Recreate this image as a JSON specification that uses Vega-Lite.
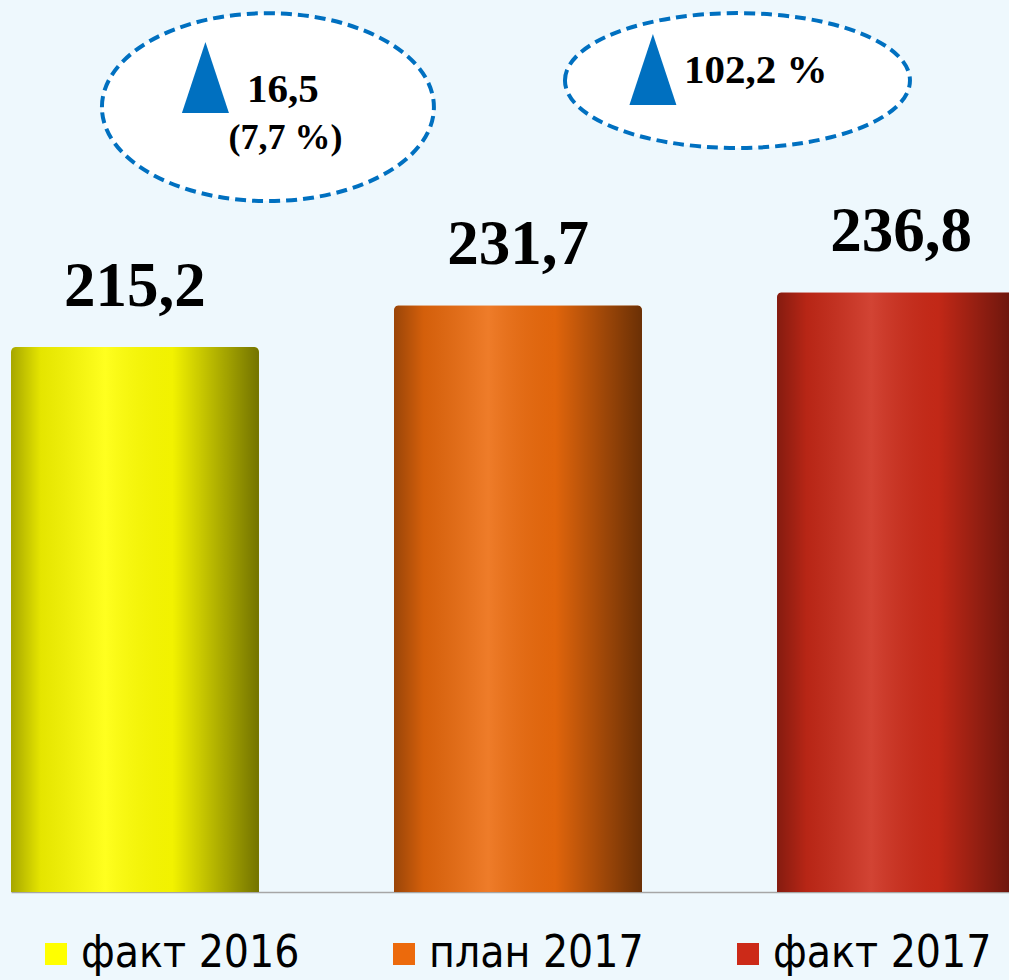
{
  "$schema": "https://vega.github.io/schema/vega-lite/v6.json",
  "width": 1009,
  "height": 892,
  "autosize": {"type": "none"},
  "padding": {"left": 0, "top": 0, "right": 0, "bottom": 88},
  "background": "#EEF8FD",
  "config": {"view": {"stroke": null}},
  "layer": [
    {
      "data": {"name": "bars", "values": [
        {"cat": "факт 2016", "value": 215.2, "label": "215,2"},
        {"cat": "план 2017", "value": 231.7, "label": "231,7"},
        {"cat": "факт 2017", "value": 236.8, "label": "236,8"}
      ]},
      "encoding": {
        "x": {"field": "cat", "type": "nominal", "sort": ["факт 2016", "план 2017", "факт 2017"],
          "scale": {"range": [11, 1025], "paddingInner": 0.3525, "paddingOuter": 0},
          "axis": {"labels": false, "ticks": false, "title": null, "domainColor": "#A6A6A6", "domainWidth": 1.5}},
        "y": {"field": "value", "type": "quantitative", "scale": {"domain": [0, 352.2], "nice": false}, "axis": null}
      },
      "layer": [
        {
          "mark": {"type": "bar", "cornerRadiusTopLeft": 5, "cornerRadiusTopRight": 5},
          "encoding": {
            "color": {"field": "cat", "type": "nominal",
              "scale": {"domain": ["факт 2016", "план 2017", "факт 2017"], "range": ["#FFFF00", "#EC6A0C", "#CC2A18"]},
              "legend": {"title": null, "orient": "none", "direction": "horizontal", "legendX": 34, "legendY": 932,
                "symbolType": "square", "symbolSize": 484, "symbolStrokeWidth": 0, "symbolOpacity": 1,
                "labelFont": "DejaVu Sans Condensed, Liberation Sans Narrow, DejaVu Sans", "labelFontSize": 44,
                "labelColor": "#000000", "labelOffset": 3, "columnPadding": 82, "labelLimit": 400}}
          }
        },
        {
          "mark": {"type": "bar", "cornerRadiusTopLeft": 5, "cornerRadiusTopRight": 5,
            "fill": {"gradient": "linear", "x1": 0, "x2": 1, "y1": 0, "y2": 0,
              "stops": [
                {"offset": 0, "color": "rgba(0,0,0,0.35)"},
                {"offset": 0.12, "color": "rgba(0,0,0,0.1)"},
                {"offset": 0.38, "color": "rgba(255,255,255,0.12)"},
                {"offset": 0.65, "color": "rgba(0,0,0,0.05)"},
                {"offset": 1, "color": "rgba(0,0,0,0.55)"}
              ]}}
        },
        {
          "mark": {"type": "text", "baseline": "alphabetic", "align": "center", "dy": -41,
            "font": "Liberation Serif", "fontWeight": "bold", "fontSize": 63, "color": "#000000"},
          "encoding": {"text": {"field": "label"}}
        }
      ]
    },
    {
      "data": {"values": [{"a": 1}]},
      "mark": {"type": "point", "shape": "M-1,0A1,0.566,0,1,1,1,0A1,0.566,0,1,1,-1,0Z", "size": 110224,
        "fill": "#FFFFFF", "fillOpacity": 0.95, "stroke": "#0070C0", "strokeWidth": 4, "strokeDash": [11, 6], "opacity": 1},
      "encoding": {"x": {"datum": "факт 2016", "bandPosition": 1.036}, "y": {"datum": 309.9}}
    },
    {
      "data": {"values": [{"a": 1}]},
      "mark": {"type": "point", "shape": "M-1,0A1,0.391,0,1,1,1,0A1,0.391,0,1,1,-1,0Z", "size": 119025,
        "fill": "#FFFFFF", "fillOpacity": 0.95, "stroke": "#0070C0", "strokeWidth": 4, "strokeDash": [11, 6], "opacity": 1},
      "encoding": {"x": {"datum": "план 2017", "bandPosition": 1.385}, "y": {"datum": 320.4}}
    },
    {
      "data": {"values": [{"a": 1}]},
      "mark": {"type": "point", "shape": "M0,-1L0.662,1L-0.662,1Z", "size": 5041, "filled": true, "color": "#0070C0", "opacity": 1},
      "encoding": {"x": {"datum": "факт 2016", "bandPosition": 0.784}, "y": {"datum": 321.6}}
    },
    {
      "data": {"values": [{"a": 1}]},
      "mark": {"type": "point", "shape": "M0,-1L0.662,1L-0.662,1Z", "size": 5041, "filled": true, "color": "#0070C0", "opacity": 1},
      "encoding": {"x": {"datum": "план 2017", "bandPosition": 1.044}, "y": {"datum": 324.8}}
    },
    {
      "data": {"values": [{"t": "16,5"}]},
      "mark": {"type": "text", "align": "left", "baseline": "alphabetic", "font": "Liberation Serif", "fontWeight": "bold", "fontSize": 41, "color": "#000000"},
      "encoding": {"x": {"datum": "факт 2016", "bandPosition": 0.952}, "y": {"datum": 311.9}, "text": {"field": "t"}}
    },
    {
      "data": {"values": [{"t": "(7,7 %)"}]},
      "mark": {"type": "text", "align": "center", "baseline": "alphabetic", "font": "Liberation Serif", "fontWeight": "bold", "fontSize": 36, "color": "#000000"},
      "encoding": {"x": {"datum": "факт 2016", "bandPosition": 1.107}, "y": {"datum": 293.3}, "text": {"field": "t"}}
    },
    {
      "data": {"values": [{"t": "102,2 %"}]},
      "mark": {"type": "text", "align": "left", "baseline": "alphabetic", "font": "Liberation Serif", "fontWeight": "bold", "fontSize": 41, "color": "#000000"},
      "encoding": {"x": {"datum": "план 2017", "bandPosition": 1.169}, "y": {"datum": 319.4}, "text": {"field": "t"}}
    }
  ]
}
